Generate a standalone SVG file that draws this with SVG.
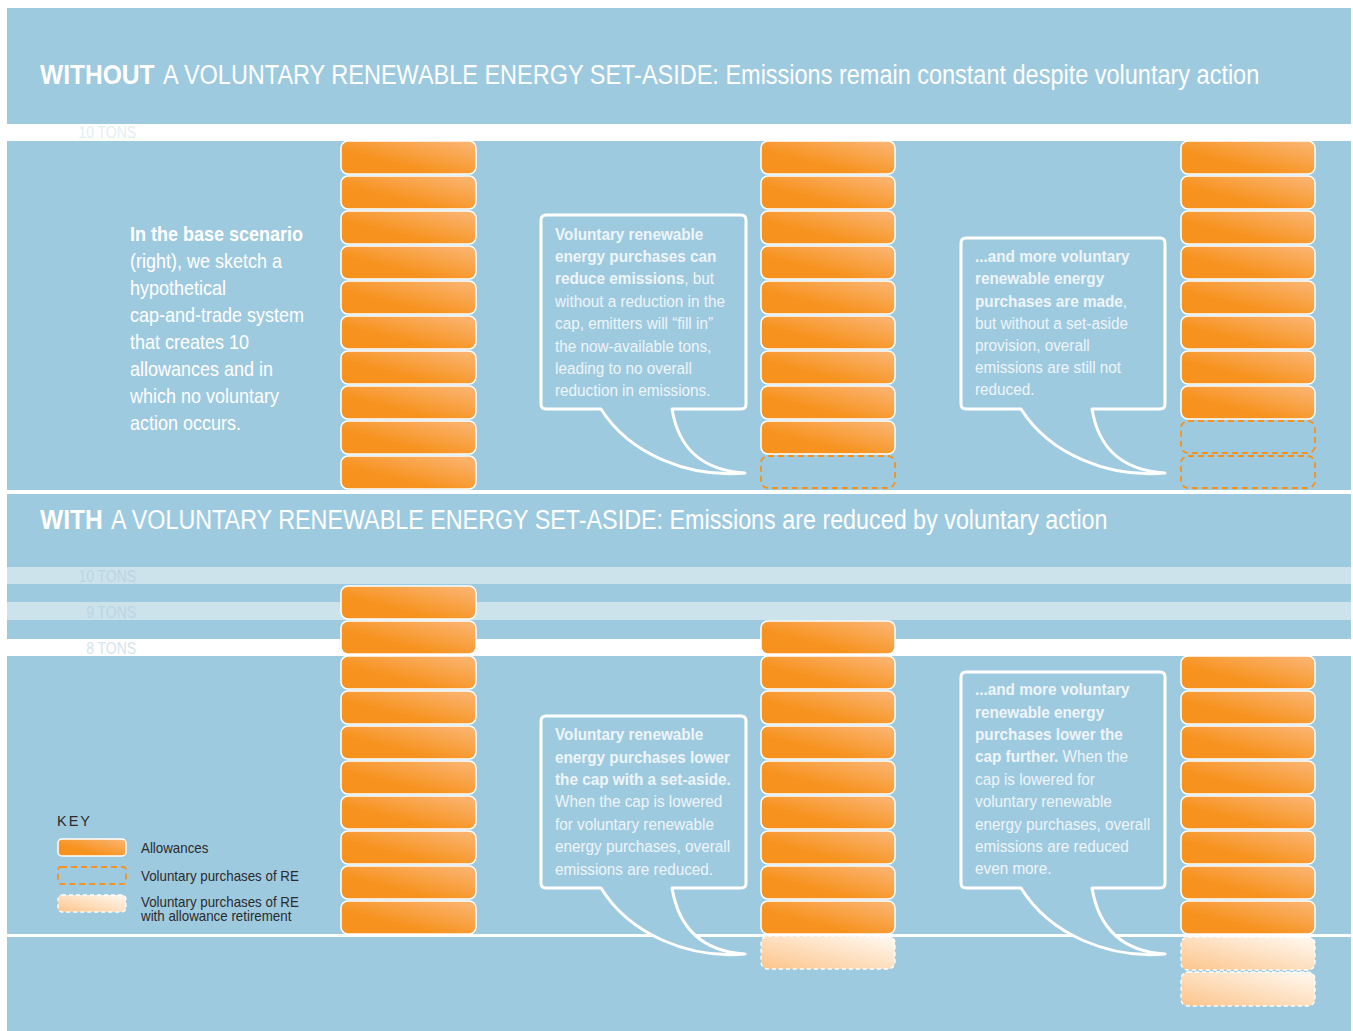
<svg xmlns="http://www.w3.org/2000/svg" width="1353" height="1031" viewBox="0 0 1353 1031">
<defs>
<linearGradient id="og" x1="0" y1="1" x2="1" y2="0"><stop offset="0.35" stop-color="#F7921E"/><stop offset="1" stop-color="#FBB777"/></linearGradient>
<linearGradient id="fg" x1="0" y1="1" x2="1" y2="0"><stop offset="0" stop-color="#FDC48A"/><stop offset="1" stop-color="#FFFAF4"/></linearGradient>
<style>
.t{font-family:"Liberation Sans",Arial,sans-serif;}
.hd{font-size:27px;fill:#fff;}
.b{font-weight:bold;}
.al{fill:url(#og);stroke:#fff;stroke-width:1.5;}
.vp{fill:none;stroke:#F7921E;stroke-width:1.8;stroke-dasharray:6 4;}
.vr{fill:url(#fg);stroke:#fff;stroke-width:1.3;stroke-dasharray:4 3;}
.bub{fill:#9ECAE0;stroke:#fff;stroke-width:3;stroke-linejoin:round;}
.bt{font-size:17px;fill:#EEF5F8;}
.lt{font-size:20px;fill:#fff;}
.tn{font-size:16px;text-anchor:end;}
.ky{font-size:14.5px;fill:#2b2b2b;}
</style>
</defs>
<rect width="1353" height="1031" fill="#fff"/>
<g id="background">
<rect x="7" y="8" width="1344" height="116" fill="#9ECAE0"/>
<rect x="7" y="141" width="1344" height="349" fill="#9ECAE0"/>
<rect x="7" y="494" width="1344" height="73" fill="#9ECAE0"/>
<rect x="7" y="567" width="1344" height="17" fill="#CCE3EC"/>
<rect x="7" y="584" width="1344" height="18" fill="#9ECAE0"/>
<rect x="7" y="602" width="1344" height="18" fill="#CCE3EC"/>
<rect x="7" y="620" width="1344" height="19" fill="#9ECAE0"/>
<rect x="7" y="656" width="1344" height="375" fill="#9ECAE0"/>
<rect x="7" y="934" width="1344" height="3" fill="#fff"/>
</g>
<g id="headers" class="t">
<g transform="translate(40 0) scale(0.91 1)"><text class="hd b" x="0" y="84">WITHOUT</text></g>
<g transform="translate(163 0) scale(0.87 1)"><text class="hd" x="0" y="84">A VOLUNTARY RENEWABLE ENERGY SET-ASIDE: Emissions remain constant despite voluntary action</text></g>
<g transform="translate(40 0) scale(0.91 1)"><text class="hd b" x="0" y="529">WITH</text></g>
<g transform="translate(111 0) scale(0.864 1)"><text class="hd" x="0" y="529">A VOLUNTARY RENEWABLE ENERGY SET-ASIDE: Emissions are reduced by voluntary action</text></g>
</g>
<g id="ton-labels" class="t">
<g transform="translate(136 0) scale(0.87 1)">
<text class="tn" x="0" y="138" fill="#E3EEF3">10 TONS</text>
<text class="tn" x="0" y="582" fill="#BAD6E3">10 TONS</text>
<text class="tn" x="0" y="618" fill="#BAD6E3">9 TONS</text>
<text class="tn" x="0" y="654" fill="#D3E5EE">8 TONS</text>
</g>
</g>
<g id="intro-text" class="t lt" transform="translate(130 0) scale(0.9 1)">
<text x="0" y="241" class="b">In the base scenario</text>
<text x="0" y="268">(right), we sketch a</text>
<text x="0" y="295">hypothetical</text>
<text x="0" y="322">cap-and-trade system</text>
<text x="0" y="349">that creates 10</text>
<text x="0" y="376">allowances and in</text>
<text x="0" y="403">which no voluntary</text>
<text x="0" y="430">action occurs.</text>
</g>
<g id="col-top-1">
<rect class="al" x="341" y="141" width="135" height="33" rx="7"/>
<rect class="al" x="341" y="176" width="135" height="33" rx="7"/>
<rect class="al" x="341" y="211" width="135" height="33" rx="7"/>
<rect class="al" x="341" y="246" width="135" height="33" rx="7"/>
<rect class="al" x="341" y="281" width="135" height="33" rx="7"/>
<rect class="al" x="341" y="316" width="135" height="33" rx="7"/>
<rect class="al" x="341" y="351" width="135" height="33" rx="7"/>
<rect class="al" x="341" y="386" width="135" height="33" rx="7"/>
<rect class="al" x="341" y="421" width="135" height="33" rx="7"/>
<rect class="al" x="341" y="456" width="135" height="33" rx="7"/>
</g>
<g id="col-top-2">
<rect class="al" x="761" y="141" width="134" height="33" rx="7"/>
<rect class="al" x="761" y="176" width="134" height="33" rx="7"/>
<rect class="al" x="761" y="211" width="134" height="33" rx="7"/>
<rect class="al" x="761" y="246" width="134" height="33" rx="7"/>
<rect class="al" x="761" y="281" width="134" height="33" rx="7"/>
<rect class="al" x="761" y="316" width="134" height="33" rx="7"/>
<rect class="al" x="761" y="351" width="134" height="33" rx="7"/>
<rect class="al" x="761" y="386" width="134" height="33" rx="7"/>
<rect class="al" x="761" y="421" width="134" height="33" rx="7"/>
<rect class="vp" x="761" y="456" width="134" height="32" rx="7"/>
</g>
<g id="col-top-3">
<rect class="al" x="1181" y="141" width="134" height="33" rx="7"/>
<rect class="al" x="1181" y="176" width="134" height="33" rx="7"/>
<rect class="al" x="1181" y="211" width="134" height="33" rx="7"/>
<rect class="al" x="1181" y="246" width="134" height="33" rx="7"/>
<rect class="al" x="1181" y="281" width="134" height="33" rx="7"/>
<rect class="al" x="1181" y="316" width="134" height="33" rx="7"/>
<rect class="al" x="1181" y="351" width="134" height="33" rx="7"/>
<rect class="al" x="1181" y="386" width="134" height="33" rx="7"/>
<rect class="vp" x="1181" y="421" width="134" height="32" rx="7"/>
<rect class="vp" x="1181" y="456" width="134" height="32" rx="7"/>
</g>
<g id="col-bot-1">
<rect class="al" x="341" y="586" width="135" height="33" rx="7"/>
<rect class="al" x="341" y="621" width="135" height="33" rx="7"/>
<rect class="al" x="341" y="656" width="135" height="33" rx="7"/>
<rect class="al" x="341" y="691" width="135" height="33" rx="7"/>
<rect class="al" x="341" y="726" width="135" height="33" rx="7"/>
<rect class="al" x="341" y="761" width="135" height="33" rx="7"/>
<rect class="al" x="341" y="796" width="135" height="33" rx="7"/>
<rect class="al" x="341" y="831" width="135" height="33" rx="7"/>
<rect class="al" x="341" y="866" width="135" height="33" rx="7"/>
<rect class="al" x="341" y="901" width="135" height="33" rx="7"/>
</g>
<g id="col-bot-2">
<rect class="al" x="761" y="621" width="134" height="33" rx="7"/>
<rect class="al" x="761" y="656" width="134" height="33" rx="7"/>
<rect class="al" x="761" y="691" width="134" height="33" rx="7"/>
<rect class="al" x="761" y="726" width="134" height="33" rx="7"/>
<rect class="al" x="761" y="761" width="134" height="33" rx="7"/>
<rect class="al" x="761" y="796" width="134" height="33" rx="7"/>
<rect class="al" x="761" y="831" width="134" height="33" rx="7"/>
<rect class="al" x="761" y="866" width="134" height="33" rx="7"/>
<rect class="al" x="761" y="901" width="134" height="33" rx="7"/>
<rect class="vr" x="761" y="936" width="134" height="33" rx="7"/>
</g>
<g id="col-bot-3">
<rect class="al" x="1181" y="656" width="134" height="33" rx="7"/>
<rect class="al" x="1181" y="691" width="134" height="33" rx="7"/>
<rect class="al" x="1181" y="726" width="134" height="33" rx="7"/>
<rect class="al" x="1181" y="761" width="134" height="33" rx="7"/>
<rect class="al" x="1181" y="796" width="134" height="33" rx="7"/>
<rect class="al" x="1181" y="831" width="134" height="33" rx="7"/>
<rect class="al" x="1181" y="866" width="134" height="33" rx="7"/>
<rect class="al" x="1181" y="901" width="134" height="33" rx="7"/>
<rect class="vr" x="1181" y="937" width="134" height="33" rx="7"/>
<rect class="vr" x="1181" y="972" width="134" height="34" rx="7"/>
</g>
<g id="bubble-1">
<path class="bub" d="M601 409 L546 409 Q541 409 541 404 L541 220 Q541 215 546 215 L741 215 Q746 215 746 220 L746 404 Q746 409 741 409 L672 409 C678 445 698 470 745 473 C690 478 630 455 601 409 Z"/>
<g class="t bt" transform="translate(555 0) scale(0.9 1)">
<text x="0" y="240" class="b">Voluntary renewable</text>
<text x="0" y="262" class="b">energy purchases can</text>
<text x="0" y="284"><tspan class="b">reduce emissions</tspan>, but</text>
<text x="0" y="307">without a reduction in the</text>
<text x="0" y="329">cap, emitters will “fill in”</text>
<text x="0" y="352">the now-available tons,</text>
<text x="0" y="374">leading to no overall</text>
<text x="0" y="396">reduction in emissions.</text>
</g>
</g>
<g id="bubble-2">
<path class="bub" d="M1021 409 L966 409 Q961 409 961 404 L961 243 Q961 238 966 238 L1160 238 Q1165 238 1165 243 L1165 404 Q1165 409 1160 409 L1092 409 C1098 445 1118 470 1165 473 C1110 478 1050 455 1021 409 Z"/>
<g class="t bt" transform="translate(975 0) scale(0.9 1)">
<text x="0" y="262" class="b">...and more voluntary</text>
<text x="0" y="284" class="b">renewable energy</text>
<text x="0" y="307"><tspan class="b">purchases are made</tspan>,</text>
<text x="0" y="329">but without a set-aside</text>
<text x="0" y="351">provision, overall</text>
<text x="0" y="373">emissions are still not</text>
<text x="0" y="395">reduced.</text>
</g>
</g>
<g id="bubble-3">
<path class="bub" d="M601 888 L546 888 Q541 888 541 883 L541 721 Q541 716 546 716 L741 716 Q746 716 746 721 L746 883 Q746 888 741 888 L672 888 C678 924 698 951 745 954 C690 959 630 935 601 888 Z"/>
<g class="t bt" transform="translate(555 0) scale(0.9 1)">
<text x="0" y="740" class="b">Voluntary renewable</text>
<text x="0" y="763" class="b">energy purchases lower</text>
<text x="0" y="785" class="b">the cap with a set-aside.</text>
<text x="0" y="807">When the cap is lowered</text>
<text x="0" y="830">for voluntary renewable</text>
<text x="0" y="852">energy purchases, overall</text>
<text x="0" y="875">emissions are reduced.</text>
</g>
</g>
<g id="bubble-4">
<path class="bub" d="M1021 888 L966 888 Q961 888 961 883 L961 677 Q961 672 966 672 L1160 672 Q1165 672 1165 677 L1165 883 Q1165 888 1160 888 L1092 888 C1098 924 1118 951 1165 954 C1110 959 1050 935 1021 888 Z"/>
<g class="t bt" transform="translate(975 0) scale(0.9 1)">
<text x="0" y="695" class="b">...and more voluntary</text>
<text x="0" y="718" class="b">renewable energy</text>
<text x="0" y="740" class="b">purchases lower the</text>
<text x="0" y="762"><tspan class="b">cap further.</tspan> When the</text>
<text x="0" y="785">cap is lowered for</text>
<text x="0" y="807">voluntary renewable</text>
<text x="0" y="830">energy purchases, overall</text>
<text x="0" y="852">emissions are reduced</text>
<text x="0" y="874">even more.</text>
</g>
</g>
<g id="key" class="t">
<text x="57" y="826" class="ky" letter-spacing="2">KEY</text>
<rect class="al" x="58" y="839" width="68" height="17" rx="4"/>
<rect class="vp" x="58" y="867" width="68" height="17" rx="3" stroke-width="1.2" stroke-dasharray="4 3"/>
<rect class="vr" x="58" y="895" width="68" height="17" rx="4"/>
<g transform="translate(141 0) scale(0.92 1)">
<text x="0" y="853" class="ky">Allowances</text>
<text x="0" y="881" class="ky">Voluntary purchases of RE</text>
<text x="0" y="907" class="ky">Voluntary purchases of RE<tspan x="0" dy="14.5">with allowance retirement</tspan></text>
</g>
</g>
</svg>
